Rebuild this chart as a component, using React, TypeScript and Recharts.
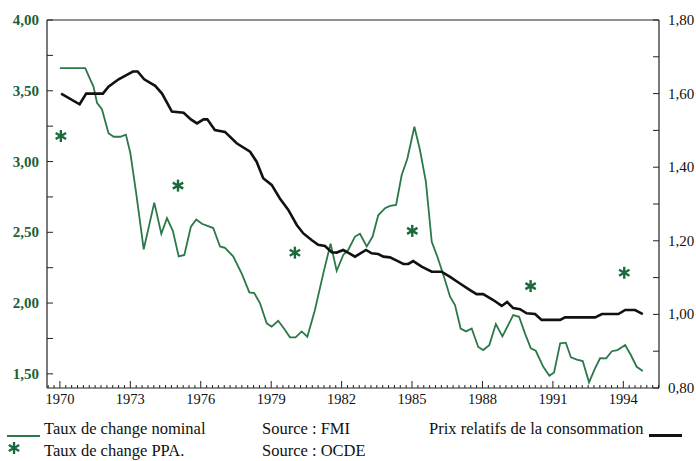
import React from 'react';
import { ComposedChart, Line, Scatter, XAxis, YAxis, ReferenceLine } from 'recharts';

// Taux de change nominal (left axis)
const nominalYears = [
  1970.0, 1971.08, 1971.29, 1971.43, 1971.58, 1971.79, 1972.07, 1972.29, 1972.57, 1972.81,
  1973.0, 1973.25, 1973.57, 1974.02, 1974.32, 1974.56, 1974.81, 1975.06, 1975.3, 1975.58,
  1975.81, 1976.05, 1976.53, 1976.82, 1977.03, 1977.38, 1977.74, 1978.07, 1978.28, 1978.52,
  1978.81, 1979.02, 1979.3, 1979.59, 1979.8, 1980.04, 1980.3, 1980.54, 1980.86, 1981.22,
  1981.53, 1981.79, 1982.07, 1982.28, 1982.57, 1982.78, 1983.07, 1983.32, 1983.56, 1983.85,
  1984.06, 1984.32, 1984.56, 1984.8, 1985.1, 1985.34, 1985.59, 1985.84, 1986.08, 1986.36,
  1986.62, 1986.83, 1987.07, 1987.3, 1987.54, 1987.82, 1988.03, 1988.29, 1988.57, 1988.85,
  1989.31, 1989.56, 1989.81, 1990.06, 1990.27, 1990.59, 1990.85, 1991.05, 1991.31, 1991.55,
  1991.77, 1992.02, 1992.27, 1992.54, 1992.8, 1993.01, 1993.27, 1993.51, 1993.75, 1994.08,
  1994.32, 1994.57, 1994.83,
];
const nominalValues = [
  3.66, 3.66, 3.58, 3.53, 3.415, 3.37, 3.2, 3.175, 3.175, 3.19,
  3.06, 2.775, 2.38, 2.71, 2.49, 2.6, 2.51, 2.33, 2.34, 2.54,
  2.59, 2.56, 2.53, 2.4, 2.39, 2.33, 2.21, 2.075, 2.07, 2.0,
  1.857, 1.833, 1.875, 1.81, 1.758, 1.758, 1.8, 1.762, 1.95, 2.21,
  2.42, 2.228, 2.34, 2.375, 2.47, 2.49, 2.4, 2.47, 2.62, 2.67,
  2.686, 2.693, 2.905, 3.02, 3.246, 3.08, 2.857, 2.433, 2.327, 2.186,
  2.045, 1.986, 1.82, 1.8, 1.82, 1.69, 1.668, 1.703, 1.852, 1.765,
  1.915, 1.903, 1.786, 1.68, 1.663, 1.55, 1.486, 1.51, 1.715, 1.72,
  1.616, 1.6, 1.59, 1.44, 1.54, 1.61, 1.609, 1.66, 1.668, 1.703,
  1.633, 1.55, 1.52,
];

// Prix relatifs de la consommation (right axis)
const priceYears = [
  1970.05, 1970.84, 1971.12, 1971.83, 1972.07, 1972.5, 1973.11, 1973.31, 1973.59, 1974.06,
  1974.35, 1974.77, 1975.27, 1975.58, 1975.84, 1976.12, 1976.28, 1976.6, 1977.03, 1977.53,
  1978.1, 1978.38, 1978.66, 1979.02, 1979.37, 1979.73, 1980.09, 1980.37, 1980.72, 1981.0,
  1981.29, 1981.58, 1981.79, 1982.07, 1982.33, 1982.57, 1983.04, 1983.28, 1983.56, 1983.78,
  1984.06, 1984.35, 1984.63, 1984.84, 1985.05, 1985.41, 1985.84, 1986.26, 1986.62, 1987.04,
  1987.47, 1987.75, 1988.03, 1988.46, 1988.82, 1989.05, 1989.31, 1989.6, 1989.88, 1990.24,
  1990.52, 1991.31, 1991.52, 1992.8, 1993.09, 1993.79, 1994.08, 1994.5, 1994.83,
];
const priceValues = [
  1.6, 1.571, 1.6, 1.6, 1.619, 1.639, 1.66, 1.66, 1.639, 1.621,
  1.6, 1.551, 1.548, 1.53, 1.519, 1.53, 1.53, 1.501, 1.496, 1.465,
  1.442, 1.415, 1.37, 1.352, 1.315, 1.284, 1.243, 1.22, 1.202, 1.189,
  1.186, 1.169, 1.168, 1.175, 1.166, 1.157, 1.175, 1.166, 1.164, 1.157,
  1.155, 1.146, 1.137, 1.137, 1.145, 1.13, 1.116, 1.116, 1.102, 1.084,
  1.066, 1.055, 1.055, 1.039, 1.023, 1.034, 1.017, 1.014, 1.003, 1.001,
  0.985, 0.985, 0.992, 0.992, 1.001, 1.001, 1.012, 1.012, 1.001,
];

// Taux de change PPA (left axis)
const ppaYears = [1970.04, 1975.03, 1980.01, 1985.01, 1990.05, 1994.04];
const ppaValues = [3.18, 2.83, 2.356, 2.51, 2.12, 2.214];

const yearLabels = [1970, 1973, 1976, 1979, 1982, 1985, 1988, 1991, 1994];
const leftTicks = [1.5, 1.75, 2.0, 2.25, 2.5, 2.75, 3.0, 3.25, 3.5, 3.75, 4.0];
const rightTicks = [0.8, 0.9, 1.0, 1.1, 1.2, 1.3, 1.4, 1.5, 1.6, 1.7, 1.8];

const quarterTicks: number[] = [];
for (let q = 0; q <= 104; q++) quarterTicks.push(1969.5 + q * 0.25);

const nominalData = nominalYears.map((t, i) => ({ t, v: nominalValues[i] }));
const priceData = priceYears.map((t, i) => ({ t, p: priceValues[i] }));
const ppaData = ppaYears.map((t, i) => ({ t, s: ppaValues[i] }));

const GREEN = '#2b7849';
const GREEN_TEXT = '#1d5f37';
const GREEN_STAR = '#1c6a3c';
const AXIS = '#222';
const FONT = '"Liberation Serif", "Times New Roman", serif';

const fmt = (v: number) => v.toFixed(2).replace('.', ',');

const XTick = (props: any) => {
  const { x, y, payload } = props;
  const v = payload.value as number;
  const r = Math.round(v);
  const major = Math.abs(v - r) < 1e-6 && yearLabels.includes(r);
  return (
    <g>
      <line x1={x} x2={x} y1={y} y2={y - (major ? 7 : 3)} stroke={AXIS} strokeWidth={1} />
      {major && (
        <text x={x} y={y + 16} textAnchor="middle" fontFamily={FONT} fontSize={14.5} fill="#111">
          {r}
        </text>
      )}
    </g>
  );
};

const LeftTick = (props: any) => {
  const { x, y, payload } = props;
  const v = payload.value as number;
  const labeled = Math.round(v * 4) % 2 === 0;
  return (
    <g>
      <line x1={x} x2={x + 6} y1={y} y2={y} stroke={AXIS} strokeWidth={1} />
      {labeled && (
        <text x={x - 8} y={y} dy={5} textAnchor="end" fontFamily={FONT} fontSize={15} fontWeight="bold" fill={GREEN_TEXT}>
          {fmt(v)}
        </text>
      )}
    </g>
  );
};

const RightTick = (props: any) => {
  const { x, y, payload } = props;
  const v = payload.value as number;
  const labeled = Math.round(v * 10) % 2 === 0;
  return (
    <g>
      <line x1={x} x2={x - 6} y1={y} y2={y} stroke={AXIS} strokeWidth={1} />
      {labeled && (
        <text x={x + 9} y={y} dy={5} textAnchor="start" fontFamily={FONT} fontSize={15} fill="#111">
          {fmt(v)}
        </text>
      )}
    </g>
  );
};

const Asterisk = (props: any) => {
  const { cx, cy } = props;
  const r = 6;
  const c = r * Math.cos(Math.PI / 6);
  const s = r * 0.5;
  return (
    <g stroke={GREEN_STAR} strokeWidth={2.4}>
      <line x1={cx} y1={cy - r} x2={cx} y2={cy + r} />
      <line x1={cx - c} y1={cy - s} x2={cx + c} y2={cy + s} />
      <line x1={cx - c} y1={cy + s} x2={cx + c} y2={cy - s} />
    </g>
  );
};

const legendText: React.CSSProperties = {
  position: 'absolute',
  fontFamily: FONT,
  fontSize: 16.5,
  lineHeight: '16.5px',
  color: '#111',
  whiteSpace: 'nowrap',
};

export default function App() {
  return (
    <div style={{ position: 'absolute', left: 0, top: 0, width: 696, height: 461, background: '#fff' }}>
      <ComposedChart width={696} height={461} margin={{ top: 20, right: 0, bottom: 0, left: 0 }}>
        <XAxis
          dataKey="t"
          type="number"
          domain={[1969.45, 1995.52]}
          allowDataOverflow
          ticks={quarterTicks}
          interval={0}
          tick={<XTick />}
          tickLine={false}
          tickSize={0}
          tickMargin={0}
          height={73}
          axisLine={{ stroke: AXIS, strokeWidth: 1.2 }}
        />
        <YAxis
          yAxisId="left"
          orientation="left"
          type="number"
          domain={[1.4, 4.0]}
          allowDataOverflow
          ticks={leftTicks}
          interval={0}
          tick={<LeftTick />}
          tickLine={false}
          tickSize={0}
          tickMargin={0}
          width={47}
          axisLine={{ stroke: AXIS, strokeWidth: 1.2 }}
        />
        <YAxis
          yAxisId="right"
          orientation="right"
          type="number"
          domain={[0.8, 1.8]}
          allowDataOverflow
          ticks={rightTicks}
          interval={0}
          tick={<RightTick />}
          tickLine={false}
          tickSize={0}
          tickMargin={0}
          width={37}
          axisLine={{ stroke: AXIS, strokeWidth: 1.2 }}
        />
        <ReferenceLine yAxisId="left" y={4.0} stroke={AXIS} strokeWidth={1.2} />
        <Line
          data={nominalData}
          dataKey="v"
          yAxisId="left"
          type="linear"
          stroke={GREEN}
          strokeWidth={1.8}
          dot={false}
          isAnimationActive={false}
        />
        <Line
          data={priceData}
          dataKey="p"
          yAxisId="right"
          type="linear"
          stroke="#111"
          strokeWidth={2.6}
          dot={false}
          isAnimationActive={false}
        />
        <Scatter data={ppaData} dataKey="s" yAxisId="left" shape={<Asterisk />} isAnimationActive={false} />
      </ComposedChart>

      {/* Legend */}
      <div style={{ position: 'absolute', left: 7, top: 434.5, width: 33, height: 2, background: GREEN }} />
      <div style={{ ...legendText, left: 44, top: 421 }}>Taux de change nominal</div>
      <div style={{ ...legendText, left: 262, top: 421 }}>Source : FMI</div>
      <div style={{ ...legendText, left: 429, top: 421 }}>Prix relatifs de la consommation</div>
      <div style={{ position: 'absolute', left: 649, top: 434, width: 33, height: 2.5, background: '#111' }} />
      <svg style={{ position: 'absolute', left: 0, top: 438 }} width={30} height={20}>
        <Asterisk cx={14} cy={10} />
      </svg>
      <div style={{ ...legendText, left: 44, top: 443 }}>Taux de change PPA.</div>
      <div style={{ ...legendText, left: 262, top: 443 }}>Source : OCDE</div>
    </div>
  );
}
